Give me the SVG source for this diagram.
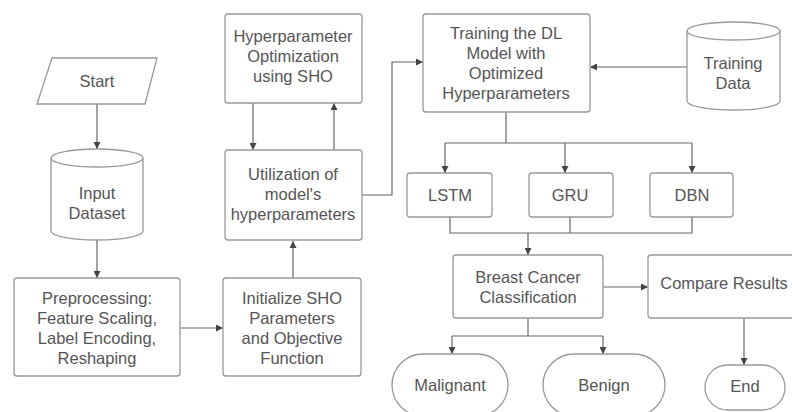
<svg xmlns="http://www.w3.org/2000/svg" width="792" height="412" viewBox="0 0 792 412">
<defs>
<marker id="ah" viewBox="0 0 10 10" refX="10" refY="5" markerWidth="7" markerHeight="7" markerUnits="userSpaceOnUse" orient="auto">
<path d="M0,0 L10,5 L0,10 Z" fill="#444"/>
</marker>
<style>
.n{fill:#fff;stroke:#999;stroke-width:1.3}
.t{font-family:"Liberation Sans",Arial,sans-serif;font-size:16.5px;fill:#555;text-anchor:middle}
.c{fill:none;stroke:#666;stroke-width:1.2}
.a{marker-end:url(#ah)}
</style>
</defs>
<rect width="792" height="412" fill="#fff"/>
<g id="connectors">
<path class="c a" d="M97,104 V149"/>
<path class="c a" d="M97,240 V278"/>
<path class="c a" d="M180,328 H223"/>
<path class="c a" d="M293,278 V241"/>
<path class="c a" d="M253,103 V150"/>
<path class="c a" d="M334,150 V103"/>
<path class="c a" d="M362,195 H392 V62 H423"/>
<path class="c a" d="M687,67 H590"/>
<path class="c" d="M506,112 V143 M445,143 H692"/>
<path class="c a" d="M445,143 V173"/>
<path class="c a" d="M565,143 V173"/>
<path class="c a" d="M692,143 V173"/>
<path class="c" d="M450,217 V233 H692 V217 M570,217 V233"/>
<path class="c a" d="M528,233 V255"/>
<path class="c a" d="M603,287 H648"/>
<path class="c a" d="M744,318 V365"/>
<path class="c" d="M528,318 V336 M452,336 H603"/>
<path class="c a" d="M452,336 V354"/>
<path class="c a" d="M603,336 V354"/>
</g>
<g id="start">
<path class="n" d="M52,58 H157 L145,104 H37 Z"/>
<text class="t" x="97" y="87">Start</text>
</g>
<g id="input-dataset">
<path class="n" d="M51,158 A46,9 0 0,1 143,158 V231 A46,9 0 0,1 51,231 Z"/>
<path class="n" d="M51,158 A46,9 0 0,0 143,158"/>
<text class="t" x="97" y="199">Input</text>
<text class="t" x="97" y="219">Dataset</text>
</g>
<g id="preprocessing">
<rect class="n" x="14" y="278" width="166" height="98" rx="3"/>
<text class="t" x="97" y="304">Preprocessing:</text>
<text class="t" x="97" y="324">Feature Scaling,</text>
<text class="t" x="97" y="344">Label Encoding,</text>
<text class="t" x="97" y="364">Reshaping</text>
</g>
<g id="initialize">
<rect class="n" x="223" y="278" width="138" height="98" rx="3"/>
<text class="t" x="292" y="304">Initialize SHO</text>
<text class="t" x="292" y="324">Parameters</text>
<text class="t" x="292" y="344">and Objective</text>
<text class="t" x="292" y="364">Function</text>
</g>
<g id="utilization">
<rect class="n" x="225" y="150" width="137" height="90" rx="3"/>
<text class="t" x="293" y="180">Utilization of</text>
<text class="t" x="293" y="200">model's</text>
<text class="t" x="293" y="220">hyperparameters</text>
</g>
<g id="hyperparameter-optimization">
<rect class="n" x="225" y="14" width="137" height="89" rx="3"/>
<text class="t" x="293" y="42">Hyperparameter</text>
<text class="t" x="293" y="62">Optimization</text>
<text class="t" x="293" y="82">using SHO</text>
</g>
<g id="training-model">
<rect class="n" x="423" y="14" width="167" height="98" rx="3"/>
<text class="t" x="506" y="39">Training the DL</text>
<text class="t" x="506" y="59">Model with</text>
<text class="t" x="506" y="79">Optimized</text>
<text class="t" x="506" y="99">Hyperparameters</text>
</g>
<g id="training-data">
<path class="n" d="M687,31 A46.5,9 0 0,1 780,31 V101 A46.5,9 0 0,1 687,101 Z"/>
<path class="n" d="M687,31 A46.5,9 0 0,0 780,31"/>
<text class="t" x="733" y="69">Training</text>
<text class="t" x="733" y="89">Data</text>
</g>
<g id="lstm">
<rect class="n" x="407" y="173" width="85" height="44" rx="3"/>
<text class="t" x="450" y="201">LSTM</text>
</g>
<g id="gru">
<rect class="n" x="529" y="173" width="84" height="44" rx="3"/>
<text class="t" x="570" y="201">GRU</text>
</g>
<g id="dbn">
<rect class="n" x="650" y="173" width="83" height="44" rx="3"/>
<text class="t" x="692" y="201">DBN</text>
</g>
<g id="breast-cancer-classification">
<rect class="n" x="453" y="255" width="150" height="63" rx="3"/>
<text class="t" x="528" y="283">Breast Cancer</text>
<text class="t" x="528" y="303">Classification</text>
</g>
<g id="compare-results">
<rect class="n" x="648" y="255" width="160" height="63" rx="3"/>
<text class="t" x="724" y="289">Compare Results</text>
</g>
<g id="malignant">
<rect class="n" x="392" y="354" width="116" height="62" rx="31"/>
<text class="t" x="450" y="391">Malignant</text>
</g>
<g id="benign">
<rect class="n" x="543" y="354" width="122" height="62" rx="31"/>
<text class="t" x="604" y="391">Benign</text>
</g>
<g id="end">
<rect class="n" x="705" y="365" width="80" height="45" rx="22.5"/>
<text class="t" x="745" y="392">End</text>
</g>
</svg>
